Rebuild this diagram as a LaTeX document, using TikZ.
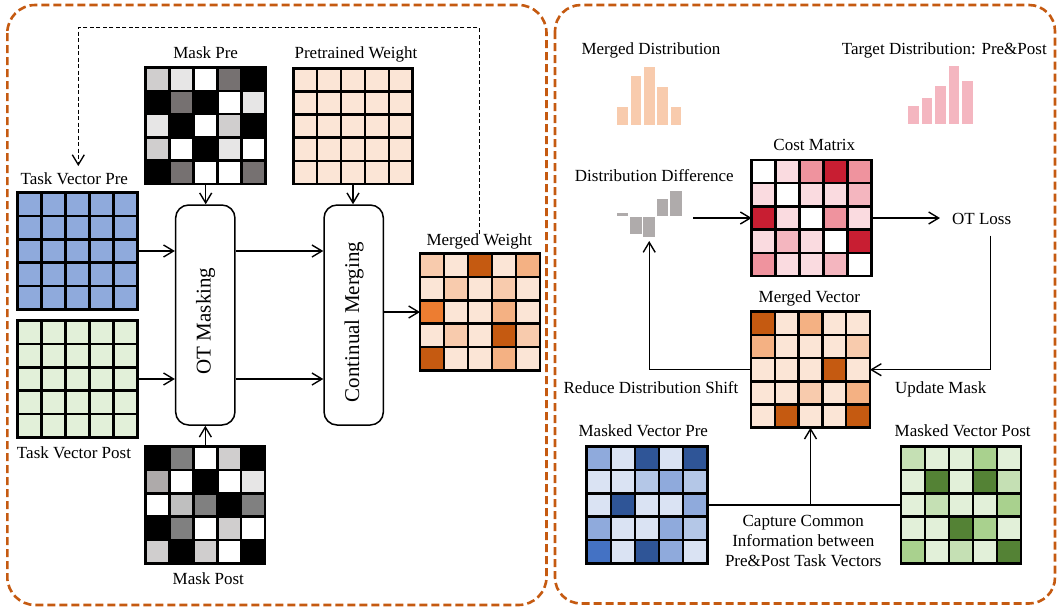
\documentclass[tikz,border=0pt]{standalone}
\usepackage{fontspec}
\setmainfont{Liberation Serif}
\usetikzlibrary{arrows.meta,calc}

\definecolor{panelc}{HTML}{C55A11}
\definecolor{gA}{HTML}{D0CECE}
\definecolor{gB}{HTML}{E7E6E6}
\definecolor{gC}{HTML}{767171}
\definecolor{gD}{HTML}{808080}
\definecolor{gE}{HTML}{AEAAAA}
\definecolor{gF}{HTML}{BFBFBF}
\definecolor{oA}{HTML}{FBE5D6}
\definecolor{oB}{HTML}{F8CBAD}
\definecolor{oC}{HTML}{F4B183}
\definecolor{oD}{HTML}{C55A11}
\definecolor{oE}{HTML}{ED7D31}
\definecolor{bZ}{HTML}{8FAADC}
\definecolor{bA}{HTML}{DAE3F3}
\definecolor{bB}{HTML}{B4C7E7}
\definecolor{bC}{HTML}{2F5597}
\definecolor{bD}{HTML}{4472C4}
\definecolor{vA}{HTML}{E2F0D9}
\definecolor{vB}{HTML}{C5E0B4}
\definecolor{vC}{HTML}{A9D18E}
\definecolor{vD}{HTML}{548235}
\definecolor{pA}{HTML}{FADBE0}
\definecolor{pB}{HTML}{F4B6BF}
\definecolor{pC}{HTML}{EF939E}
\definecolor{pD}{HTML}{C81E32}
\definecolor{pT}{HTML}{F4B6C0}
\definecolor{difc}{HTML}{AFABAB}

% name, left x, top y, width, height, 25 colours
\newcommand{\mkgrid}[6]{%
  \node[gridbox, minimum width=#4pt, minimum height=#5pt, anchor=north west] (#1) at (#2,#3) {};
  \foreach \c [count=\i from 0] in {#6} {%
    \pgfmathtruncatemacro\gc{mod(\i,5)}%
    \pgfmathtruncatemacro\gr{div(\i,5)}%
    \fill[\c] ({#2+\gc*#4/5},{#3+\gr*#5/5}) rectangle ++({#4/5},{#5/5});
  }%
  \foreach \k in {1,...,4} {%
    \draw[gridline] ({#2+\k*#4/5},#3) -- ({#2+\k*#4/5},{#3+#5});
    \draw[gridline] (#2,{#3+\k*#5/5}) -- ({#2+#4},{#3+\k*#5/5});
  }%
  \draw[gridline] (#2,#3) rectangle ({#2+#4},{#3+#5});
}

\begin{document}
\begin{tikzpicture}[x=1pt,y=-1pt,
  panel/.style={draw=panelc, line width=2.6pt, dash pattern=on 8pt off 4pt, rounded corners=28pt},
  gridbox/.style={inner sep=0pt, outer sep=0pt, draw=none},
  gridline/.style={line width=2.5pt, draw=black},
  arr/.style={line width=1.4pt, -{Straight Barb[length=10pt,width=12pt]}},
  conn/.style={line width=1.4pt},
  fb/.style={line width=1.3pt, dash pattern=on 4pt off 2.5pt, -{Straight Barb[length=10pt,width=12pt]}},
  procbox/.style={draw, line width=1.5pt, rounded corners=13pt, minimum width=59.3pt, minimum height=220pt, inner sep=0pt},
  lbl/.style={inner sep=0pt, font=\fontsize{17}{20}\selectfont, text height=11.5pt, text depth=3.5pt},
  biglbl/.style={inner sep=0pt, font=\fontsize{21}{24}\selectfont, rotate=90},
  bar/.style={draw=white, line width=0.7pt}
]
\useasboundingbox (0,0) rectangle (1058,611);

% panels
\draw[panel] (7.3,5) rectangle (546.5,605);
\draw[panel, rounded corners=26pt] (555,5) rectangle (1055,603.5);

% ---------- left panel ----------
\node[lbl] (mprelbl) at (205.7,54) {Mask Pre};
\node[lbl] (pwlbl) at (356,54.5) {Pretrained Weight};
\node[lbl] (tvprelbl) at (74.3,180.5) {Task Vector Pre};
\node[lbl] (tvpostlbl) at (74,454.8) {Task Vector Post};
\node[lbl] (mpostlbl) at (208.3,580.8) {Mask Post};
\node[lbl] (mwlbl) at (479.3,241.5) {Merged Weight};

\mkgrid{mpre}{145.7}{67.7}{120}{116.3}{gA,gB,white,gC,black, black,gC,black,white,gB, gB,black,white,gA,black, gA,white,black,gB,white, black,gC,white,white,gC}
\mkgrid{pw}{293.3}{68.3}{119.4}{115.7}{oA,oA,oA,oA,oA, oA,oA,oA,oA,oA, oA,oA,oA,oA,oA, oA,oA,oA,oA,oA, oA,oA,oA,oA,oA}
\mkgrid{tvpre}{17.3}{192.7}{120}{116.6}{bZ,bZ,bZ,bZ,bZ, bZ,bZ,bZ,bZ,bZ, bZ,bZ,bZ,bZ,bZ, bZ,bZ,bZ,bZ,bZ, bZ,bZ,bZ,bZ,bZ}
\mkgrid{tvpost}{17.3}{320.7}{120.4}{116.6}{vA,vA,vA,vA,vA, vA,vA,vA,vA,vA, vA,vA,vA,vA,vA, vA,vA,vA,vA,vA, vA,vA,vA,vA,vA}
\mkgrid{mpost}{145.7}{446.7}{119.3}{116.6}{black,gD,white,gA,black, gE,white,black,white,gB, white,gF,gD,black,gD, black,gD,white,gA,white, gA,black,gA,white,black}
\mkgrid{mw}{420}{253.3}{120}{117.4}{oB,oA,oD,oA,oC, oA,oB,oA,oB,oA, oE,oA,oA,oC,oA, oA,oB,oA,oD,oB, oD,oA,oA,oC,oA}

\node[procbox] (otm) at (205.3,315) {};
\node[procbox] (cm) at (353.7,315) {};
\node[biglbl] (otmlbl) at (205.5,321) {OT Masking};
\node[biglbl] (cmlbl) at (354,322) {Continual Merging};

\draw[arr] (tvpre.east) -- (otm.west |- tvpre.east);
\draw[arr] (tvpost.east) -- (otm.west |- tvpost.east);
\draw[arr] (mpre.south) -- (mpre.south |- otm.north);
\draw[arr] (mpost.north) -- (mpost.north |- otm.south);
\draw[arr] (otm.east |- tvpre.east) -- (cm.west |- tvpre.east);
\draw[arr] (otm.east |- tvpost.east) -- (cm.west |- tvpost.east);
\draw[arr] (pw.south) -- (pw.south |- cm.north);
\draw[arr] (cm.east |- mw.west) -- (mw.west);

\coordinate (fbcorner) at (78.3,27.7);
\coordinate (fbend) at (78.3,166);
\draw[fb] (mwlbl.north) |- (fbcorner) -- (fbend);

% ---------- right panel ----------
\node[lbl] (mdlbl) at (651,50.8) {Merged Distribution};
\node[lbl] (tdlbl) at (944.3,50.8) {Target Distribution: Pre\&Post};
\node[lbl] (costlbl) at (814.3,146.5) {Cost Matrix};
\node[lbl] (ddlbl) at (654.3,177.5) {Distribution Difference};
\node[lbl, inner xsep=12pt, inner ysep=7.5pt] (otloss) at (981.7,220.5) {OT Loss};
\node[lbl] (mvlbl) at (809.3,298.8) {Merged Vector};
\node[lbl] (rdslbl) at (651,389.8) {Reduce Distribution Shift};
\node[lbl] (umlbl) at (940.7,389.8) {Update Mask};
\node[lbl] (mvprelbl) at (643.3,432.2) {Masked Vector Pre};
\node[lbl] (mvpostlbl) at (962.7,432.2) {Masked Vector Post};
\node[lbl, align=center, text height=, text depth=] (caplbl) at (803.3,540.5) {Capture Common\\Information between\\Pre\&Post Task Vectors};

% merged distribution bars
\foreach \t [count=\i from 0] in {106.7,75,66.7,86.7,106.7}
  \fill[oB, bar] ({616.7+\i*13.3},125) rectangle ++(11.7,{\t-125});
% target distribution bars
\foreach \t [count=\i from 0] in {105.3,97.7,85.3,65,80}
  \fill[pT, bar] ({907.7+\i*13.4},124) rectangle ++(11.7,{\t-124});
% distribution difference bars
\node[gridbox, minimum width=88pt, minimum height=53pt] (ddbars) at (649.2,214.5) {};
\fill[difc] (616.7,213.3) rectangle ++(11.7,2.4);
\fill[difc] (630,217) rectangle ++(11.7,17.3);
\fill[difc] (643.3,217) rectangle ++(11.7,20.3);
\fill[difc] (656.7,199) rectangle ++(11.7,17);
\fill[difc] (670,190.7) rectangle ++(11.7,25.3);

\mkgrid{cost}{751.7}{160}{120}{116}{white,pA,pC,pD,pC, pA,white,pA,pA,pB, pD,pA,white,pC,pA, pA,pB,pA,white,pD, pC,pA,pA,pB,white}
\mkgrid{mv}{751}{311.7}{119}{116}{oD,oA,oC,oA,oA, oC,oA,oA,oA,oB, oA,oA,oA,oD,oA, oA,oA,oB,oA,oC, oA,oD,oA,oA,oD}
\mkgrid{mvpre}{586.7}{446.7}{120.6}{116.6}{bZ,bA,bC,bA,bC, bA,bA,bB,bZ,bB, bA,bC,bA,bA,bZ, bZ,bA,bA,bZ,bB, bD,bA,bC,bZ,bA}
\mkgrid{mvpost}{901}{446.7}{120}{116.6}{vB,vA,vA,vC,vA, vA,vD,vA,vD,vB, vA,vB,vA,vA,vC, vA,vA,vD,vC,vA, vC,vA,vB,vA,vD}

\draw[arr] (ddbars.east |- cost.west) -- (cost.west);
\draw[arr] (cost.east) -- (otloss.west |- cost.east);
\draw[arr] ([xshift=9pt]otloss.south) |- (mv.east);
\draw[arr] (mv.west) -| (ddbars.south);
\draw[conn] (mvpre.east) -- (mvpost.west);
\draw[arr] (mv.south |- mvpre.east) -- (mv.south);
\end{tikzpicture}
\end{document}
